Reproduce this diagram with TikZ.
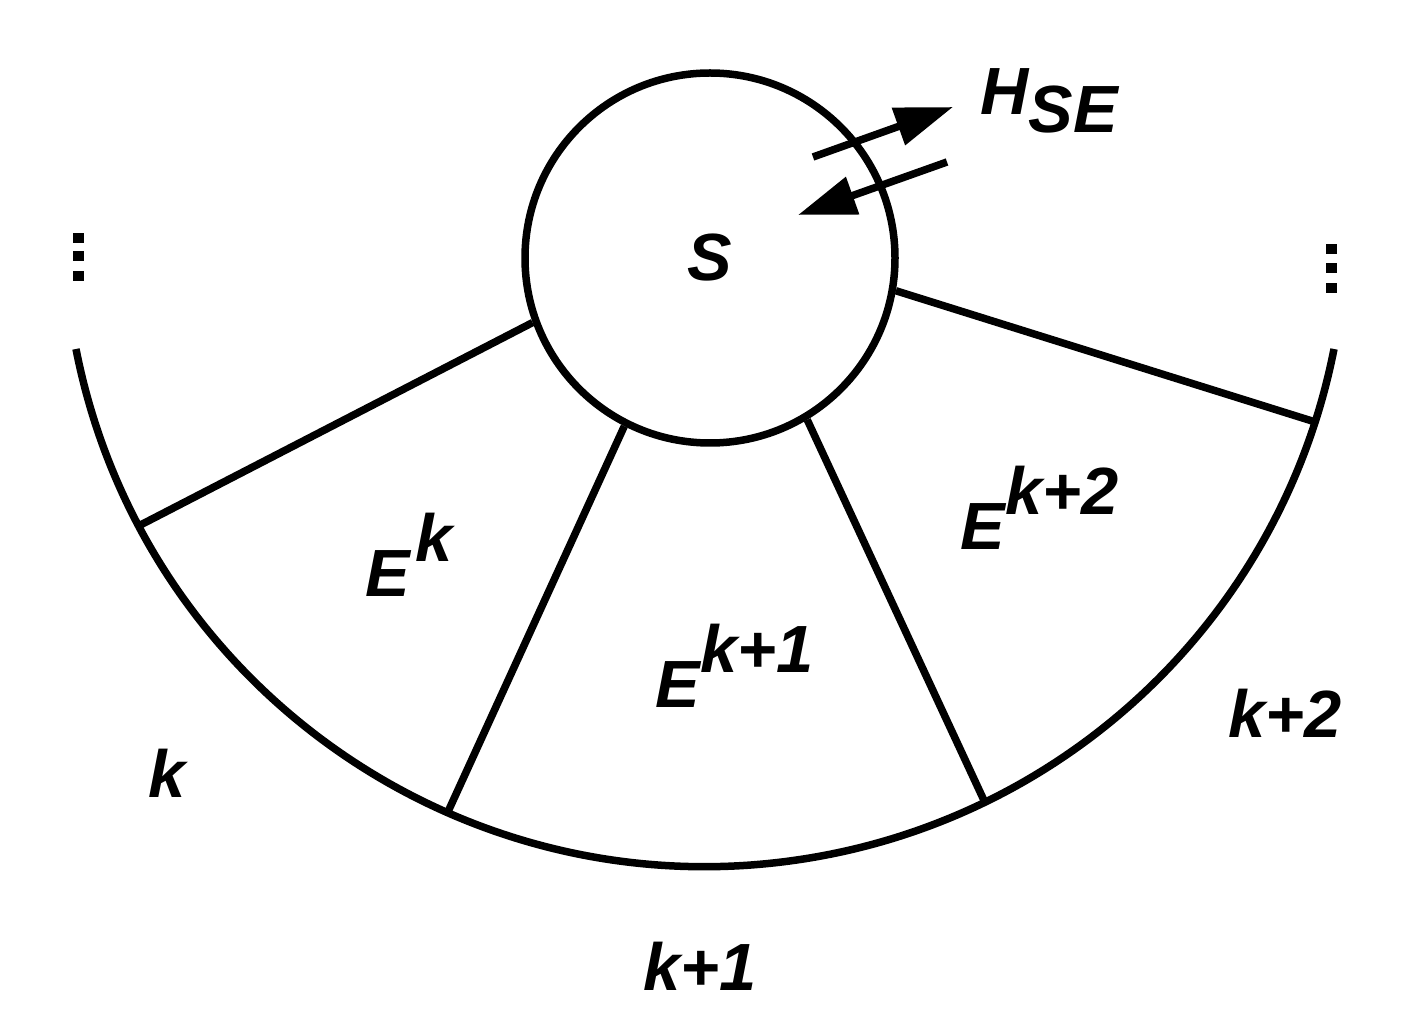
\documentclass[tikz,border=0pt]{standalone}
\usepackage{fontspec}
\setmainfont{Liberation Sans}
\usetikzlibrary{arrows.meta}
\tikzset{
  lbl/.style={inner sep=0pt,anchor=base west,font=\fontsize{19}{23}\selectfont\bfseries\itshape},
  dot/.style={rectangle,fill,inner sep=0pt,minimum width=0.11cm,minimum height=0.10cm},
  tip/.style={-{Triangle[length=0.58cm,width=0.38cm]}}
}
\newcommand{\up}[1]{\raisebox{0.35cm}{#1}}
\newcommand{\dn}[1]{\raisebox{-0.18cm}{#1}}
\begin{document}
\begin{tikzpicture}[line width=0.075cm]
                \useasboundingbox (0,0) rectangle (14.2,10.3);
                \node[draw,circle,inner sep=0pt,minimum size=3.70cm,font=\fontsize{19}{23}\selectfont\bfseries\itshape] (sys) at (7.10,7.72) {S};
                % outer arc, centre (7.05,8.04), radius 6.41
                \draw (0.76,6.81) arc[start angle=191.1,end angle=348.9,radius=6.41];
                \coordinate (a1) at (1.385,5.04);
                \coordinate (a2) at (4.474,2.17);
                \coordinate (a3) at (9.85,2.274);
                \coordinate (a4) at (13.153,6.08);
                \draw (sys.200.4) -- (a1);
                \draw (sys.243.7) -- (a2);
                \draw (sys.301.7) -- (a3);
                \draw (sys.350.2) -- (a4);
                % coupling arrows
                \coordinate (p1) at (8.13,8.73);
                \coordinate (q1) at (9.53,9.23);
                \coordinate (p2) at (9.47,8.68);
                \coordinate (q2) at (7.98,8.15);
                \draw[tip] (p1) -- (q1);
                \draw[tip] (p2) -- (q2);
                \node[lbl] (hse) at (9.77,9.15) {H\dn{SE}};
                % environment labels
                \node[lbl] (ek) at (3.62,4.33) {E\kern0.05cm\up{k}};
                \node[lbl] (ek1) at (6.52,3.23) {E\up{k+1}};
                \node[lbl] (ek2) at (9.57,4.80) {E\up{k+2}};
                \node[lbl] (k0) at (1.45,2.33) {k};
                \node[lbl] (k1) at (6.40,0.40) {k+1};
                \node[lbl] (k2) at (12.25,2.92) {k+2};
                % dots
                \foreach \y [count=\i] in {7.92,7.74,7.54} \node[dot] (dl\i) at (0.78,\y) {};
                \foreach \y [count=\i] in {7.81,7.62,7.42} \node[dot] (dr\i) at (13.31,\y) {};
\end{tikzpicture}
\end{document}
